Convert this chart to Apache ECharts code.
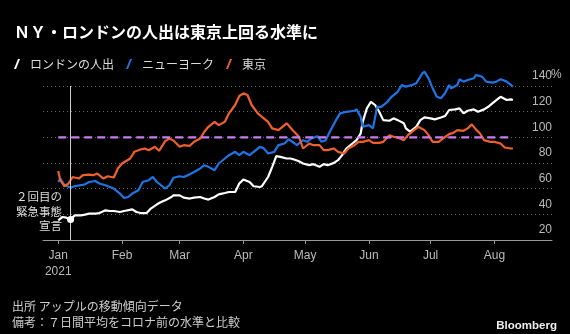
<!DOCTYPE html>
<html><head><meta charset="utf-8">
<script src="https://cdn.jsdelivr.net/npm/echarts@6/dist/echarts.min.js"></script>
<style>html,body{margin:0;padding:0;background:#000;}#c{width:570px;height:334px;}</style>
</head><body><div id="c"></div>
<script>
// days since 2021-01-01 and values (% of pre-COVID level, 7-day average)
const londonDays = [0,2,4,6,8,11,13,15,18,20,23,25,27,30,32,36,38,40,43,45,48,50,52,55,56,59,61,64,66,69,71,73,76,78,81,83,86,88,90,93,95,98,99,102,104,106,108,111,113,115,117,119,122,124,127,129,131,134,136,138,140,143,145,147,148,150,152,154,156,158,161,163,165,168,169,171,174,176,178,181,183,186,188,190,193,195,197,199,202,204,207,209,211,214,215,218,220,221];
const londonVals = [35.3,37.9,37.4,35.9,39.2,39.2,39.8,40.5,40.5,41,43.1,42.6,42.6,41.8,42.6,43.9,41.8,41,41,44.5,47.8,49.6,50.9,53.5,54.8,54.8,53,52.3,53,53.5,52.3,51.5,53.5,55.6,56.6,57.4,57.4,64,67.1,65.2,61.9,61.3,61.9,69.1,77,85.3,84.8,83.5,83.5,82.5,81.4,79.6,78.3,79.1,77,79.1,78.3,80.1,82.2,86.1,91.3,95.2,97.8,103,112.1,122.6,127.7,125.2,119.9,113.4,112.9,114.8,113.4,110.9,107,104.5,108.2,113.4,115.5,114.8,114,115.5,116.6,121.3,121.8,122.6,118.7,120.7,121.8,119.9,121.8,123.8,126.5,130.4,131.6,129.1,129.6,129.1];

const nyDays = [0,1,3,6,8,11,13,15,18,20,23,25,27,30,32,34,36,39,41,44,46,48,52,54,56,59,61,64,66,69,71,73,76,78,81,83,86,88,90,93,95,98,100,102,105,107,110,112,115,116,119,121,123,126,128,130,132,135,137,140,144,145,147,148,151,153,155,157,160,162,165,167,169,172,174,177,178,180,182,184,186,188,190,191,194,195,197,199,202,203,206,208,211,213,215,218,220,221];
const nyVals = [65.2,67.9,62.7,60.9,61.9,62.7,63.4,65.2,66,64,62.7,61.3,60.1,56.2,52.7,53.5,56.2,58.8,65.2,66.6,69.1,65.2,60.1,62.5,68.5,69.7,69.1,71.3,73,75.7,78.3,77,74.4,79.6,83.5,86.1,88.7,86.1,88.7,86.1,88.7,92.6,91.3,87.4,88.7,93.9,95.2,98.5,95.2,93.9,97.8,96.5,99.1,100.9,96.5,97.8,104.3,113.4,118.7,119.9,120.7,121.8,116,108.2,109.5,107,123.8,123.8,127.7,131.6,135.5,140.8,139.5,140.8,142.1,149.9,151.2,146,138.2,131.6,130.4,134.3,140.8,138.2,140.8,145.2,143.4,144.7,146,148.6,147.3,143.4,142.6,143.4,145.2,143.4,140.8,139.5];

const tokyoDays = [0,1,3,5,7,10,12,15,17,19,22,24,27,29,31,35,37,40,42,44,47,49,52,54,56,59,61,64,66,69,71,73,76,78,81,83,86,88,90,92,94,97,99,102,104,107,109,111,114,117,119,122,124,127,129,131,134,136,139,141,144,146,148,151,153,156,158,161,163,165,168,170,173,175,178,180,182,185,187,190,192,194,197,199,201,203,205,207,210,212,215,217,220,221];
const tokyoVals = [73.8,66.6,61.9,64,69.1,67.9,70.5,71,70.5,71.8,67.9,69.7,68.7,75.7,79.6,83.5,88.7,90.5,91.3,90,92.6,89.5,97,99.1,97.5,92.6,93.9,93.4,96.5,99.1,104.3,108.2,112.1,109.5,112.1,118.7,125.2,132.2,134.3,133,125.2,118.7,116,112.1,107,105.6,108.2,110.9,105.6,100.4,91.3,95.2,93.9,93.9,90,90,91.3,88.7,87.4,91.3,93.9,96.5,96.5,97.8,95.7,95.7,96.5,101.7,100.4,99.9,97.8,101.7,105.6,108.2,105.6,101.7,96.5,96.5,99.1,102.5,103.5,105.6,105.1,107,110.1,106.2,103,97.8,96.5,96.5,95.2,92.1,91.3,91.3];

const baselineDays = [0,221];
const baselineVals = [100,100];

const emergencyDay = 6; // 2021-01-07
const monthTickDays = [0,31,59,90,120,151,181,212];
const monthLabels = ['Jan','Feb','Mar','Apr','May','Jun','Jul','Aug'];
const yearLabel = '2021';
const yTicks = [20,40,60,80,100,120,140];

const seriesNames = ['ロンドンの人出','ニューヨーク','東京'];
const titleText = 'ＮＹ・ロンドンの人出は東京上回る水準に';
const noteLines = ['出所 アップルの移動傾向データ','備考：７日間平均をコロナ前の水準と比較'];
const annotationLines = ['２回目の','緊急事態','宣言'];

function pairs(days, vals){ return days.map((d,i)=>[d, vals[i]]); }

const CJK = '"Noto Sans CJK JP", "Noto Sans", sans-serif';
const LAT = '"Liberation Sans", Arial, sans-serif';
const colors = ['#ffffff','#1f74e3','#f0602c'];

const chart = echarts.init(document.getElementById('c'), null, {renderer:'canvas'});
const lineBase = {type:'line', showSymbol:false, clip:false, animation:false, lineStyle:{width:2.2}, emphasis:{disabled:true}};
const emergencyVal = londonVals[londonDays.indexOf(emergencyDay)];
chart.setOption({
  backgroundColor:'#000',
  animation:false,
  title:{text:titleText, left:9, top:19, textStyle:{color:'#fff', fontSize:16, fontWeight:'bold', fontFamily:CJK}},
  legend:{
    data:seriesNames, left:9, top:53, itemWidth:6, itemHeight:10, itemGap:12,
    icon:'path://M4,0 L6,0 L2,10 L0,10 Z',
    textStyle:{color:'#ddd', fontSize:12, fontFamily:CJK, padding:[0,0,0,5]},
    selectedMode:false
  },
  grid:{left:43, right:18, top:86, bottom:94, containLabel:false},
  xAxis:{
    type:'value', min:-7.4, max:240,
    axisLine:{lineStyle:{color:'#999', width:1}},
    axisTick:{show:true, length:4, lineStyle:{color:'#999'}, customValues:monthTickDays},
    axisLabel:{customValues:monthTickDays, color:'#bbb', fontSize:12, margin:8, lineHeight:15.5, fontFamily:LAT,
      formatter:function(v){ const i = monthTickDays.indexOf(v); if(i<0) return ''; return i===0 ? monthLabels[0]+'\n'+yearLabel : monthLabels[i]; }},
    splitLine:{show:false}
  },
  yAxis:{
    type:'value', position:'right', min:20, max:140, interval:20,
    axisLine:{show:false}, axisTick:{show:false},
    axisLabel:{inside:true, margin:0, color:'#bbb', fontSize:12, verticalAlign:'bottom', padding:[0,0,4,0], fontFamily:LAT,
      formatter:function(v){ return yTicks.indexOf(v)>=0 ? String(v) : ''; }},
    splitLine:{show:true, lineStyle:{color:'#666', type:[1,3], width:1}}
  },
  graphic:[
    {type:'text', x:551, y:69, style:{text:'%', fill:'#bbb', fontSize:12, fontFamily:LAT}},
    {type:'text', x:62, y:197, style:{text:annotationLines[0], fill:'#ddd', fontSize:11.5, align:'right', verticalAlign:'middle', fontFamily:CJK}},
    {type:'text', x:62, y:211.3, style:{text:annotationLines[1], fill:'#ddd', fontSize:11.5, align:'right', verticalAlign:'middle', fontFamily:CJK}},
    {type:'text', x:62, y:225.5, style:{text:annotationLines[2], fill:'#ddd', fontSize:11.5, align:'right', verticalAlign:'middle', fontFamily:CJK}},
    {type:'text', x:12, y:306.5, style:{text:noteLines[0], fill:'#ccc', fontSize:12, verticalAlign:'middle', fontFamily:CJK}},
    {type:'text', x:12, y:322.7, style:{text:noteLines[1], fill:'#ccc', fontSize:12, verticalAlign:'middle', fontFamily:CJK}},
    {type:'text', x:557, y:326, style:{text:'Bloomberg', fill:'#eee', fontSize:11.5, fontWeight:'bold', align:'right', verticalAlign:'middle', fontFamily:LAT}}
  ],
  series:[
    Object.assign({}, lineBase, {name:seriesNames[0], data:pairs(londonDays, londonVals), color:colors[0], z:3,
      markLine:{silent:true, symbol:'none', animation:false, label:{show:false}, lineStyle:{color:'#ccc', width:1, type:'solid'},
        data:[{xAxis:emergencyDay}]},
      markPoint:{silent:true, animation:false, symbol:'circle', symbolSize:7, itemStyle:{color:'#fff'}, label:{show:false},
        data:[{coord:[emergencyDay, emergencyVal]}]}
    }),
    Object.assign({}, lineBase, {name:seriesNames[1], data:pairs(nyDays, nyVals), color:colors[1], z:3}),
    Object.assign({}, lineBase, {name:seriesNames[2], data:pairs(tokyoDays, tokyoVals), color:colors[2], z:3}),
    Object.assign({}, lineBase, {name:'baseline', data:pairs(baselineDays, baselineVals), color:'#c97cf4', z:4,
      lineStyle:{width:2.2, type:[8,5]}})
  ]
});
</script></body></html>
